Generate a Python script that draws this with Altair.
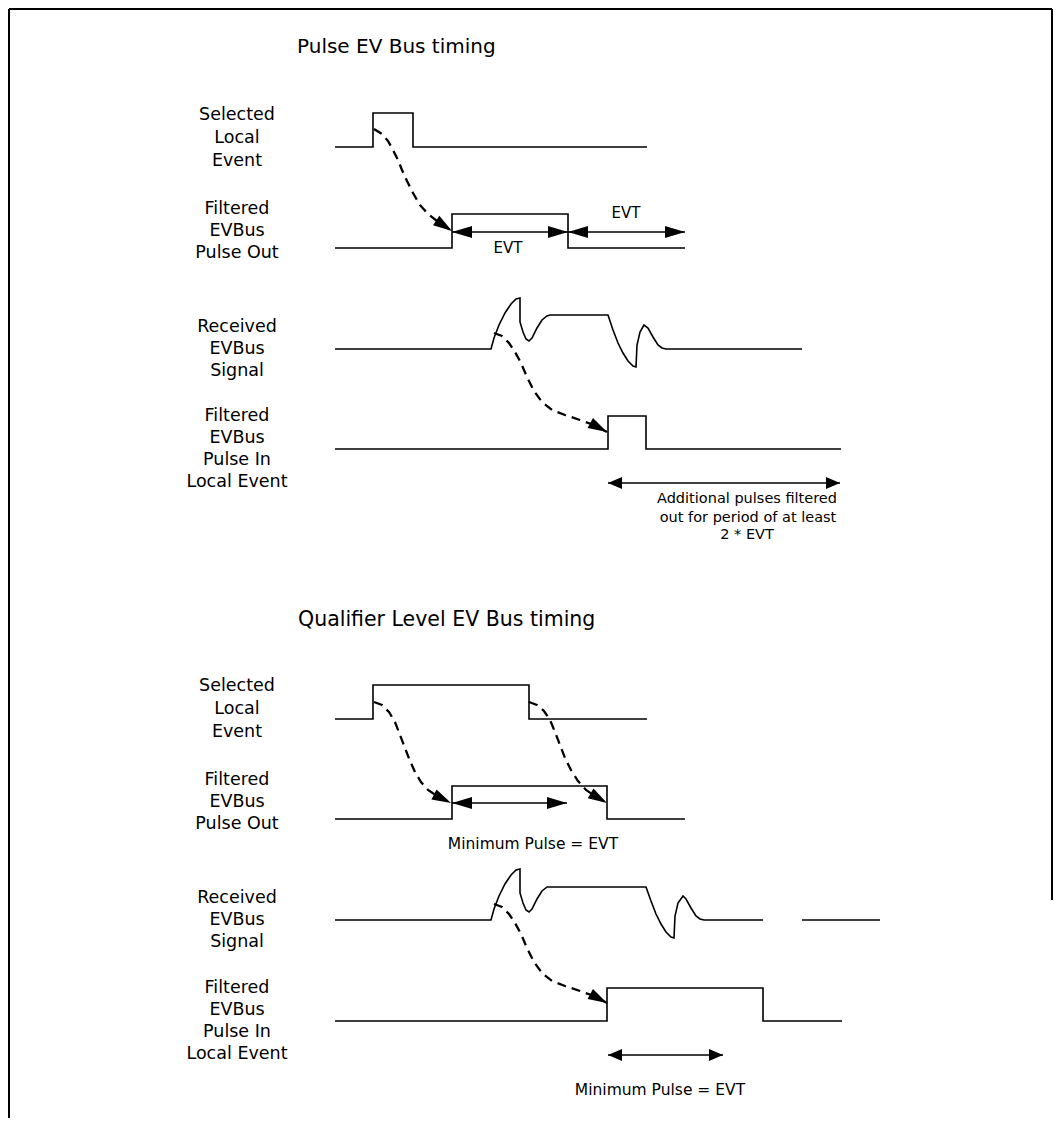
import math
import altair as alt
import pandas as pd

# ---------------- waveforms (time position x, level position y) ----------------
# Section 1: Pulse EV Bus timing
s1_sel_x = [335, 373, 373, 413, 413, 647]
s1_sel_y = [147, 147, 113, 113, 147, 147]
s1_out_x = [335, 452, 452, 568, 568, 685]
s1_out_y = [248, 248, 214, 214, 248, 248]
s1_rcv_x = [335, 491, 494, 499, 505, 511, 516, 520, 520, 523, 526, 529, 532, 537, 542, 547, 550,
            608, 613, 618, 623, 628, 633, 636, 637, 640, 644, 648, 653, 658, 662, 666, 802]
s1_rcv_y = [349, 349, 338, 325, 313, 304, 299, 298, 322, 332, 339, 341, 338, 328, 320, 316, 315,
            315, 330, 343, 353, 361, 366, 367, 345, 332, 325, 328, 337, 345, 348, 349, 349]
s1_in_x = [335, 608, 608, 646, 646, 841]
s1_in_y = [449, 449, 416, 416, 449, 449]

# Section 2: Qualifier Level EV Bus timing
s2_sel_x = [335, 373, 373, 529, 529, 647]
s2_sel_y = [719, 719, 685, 685, 719, 719]
s2_out_x = [335, 452, 452, 607, 607, 685]
s2_out_y = [819, 819, 786, 786, 819, 819]
s2_rcv_x = [335, 491, 494, 499, 505, 511, 516, 520, 520, 523, 526, 529, 532, 537, 542, 547, 550,
            646, 651, 656, 661, 666, 671, 674, 675, 678, 683, 686, 691, 696, 700, 704, 763]
s2_rcv_y = [920, 920, 909, 896, 884, 875, 870, 869, 893, 903, 910, 912, 909, 899, 891, 887, 887,
            887, 901, 914, 924, 932, 937, 938, 916, 903, 896, 899, 908, 916, 919, 920, 920]
s2_rcv2_x = [802, 880]
s2_rcv2_y = [920, 920]
s2_in_x = [335, 607, 607, 763, 763, 842]
s2_in_y = [1021, 1021, 988, 988, 1021, 1021]

# ---------------- dashed causality curves ----------------
d1_x = [374, 382, 388, 393, 398, 402, 407, 413, 420, 428, 437, 452]
d1_y = [129, 134, 141, 150, 160, 170, 181, 193, 205, 214, 221, 231]
d2_x = [494, 502, 509, 515, 521, 527, 534, 542, 552, 565, 580, 594, 607]
d2_y = [333, 336, 343, 352, 363, 377, 391, 402, 410, 415, 420, 425, 432]
d3_x = [374, 382, 389, 395, 400, 405, 410, 415, 421, 428, 437, 451]
d3_y = [702, 705, 712, 722, 735, 748, 761, 772, 782, 790, 796, 803]
d4_x = [529, 537, 544, 550, 555, 560, 565, 571, 578, 586, 595, 607]
d4_y = [702, 705, 711, 720, 732, 745, 758, 770, 781, 790, 796, 803]
d5_x = [494, 502, 509, 515, 521, 527, 534, 542, 552, 565, 580, 594, 607]
d5_y = [904, 907, 914, 923, 934, 948, 962, 973, 981, 986, 991, 996, 1003]

# ---------------- double-headed span arrows ----------------
span_x1 = [452, 568, 608, 452, 608]
span_x2 = [568, 685, 840, 567, 723]
span_y = [232, 232, 483, 803, 1055]
span_kind = ["big", "big", "small", "big", "small"]

# ---------------- texts ----------------
titles = ["Pulse EV Bus timing", "Qualifier Level EV Bus timing"]
title_x = [297, 298]
title_y = [47, 620]
title_size = [20, 20.5]

label_text = ["Selected", "Local", "Event",
              "Filtered", "EVBus", "Pulse Out",
              "Received", "EVBus", "Signal",
              "Filtered", "EVBus", "Pulse In", "Local Event",
              "Selected", "Local", "Event",
              "Filtered", "EVBus", "Pulse Out",
              "Received", "EVBus", "Signal",
              "Filtered", "EVBus", "Pulse In", "Local Event"]
label_y = [115, 138, 161,
           209, 231, 253,
           327, 349, 371,
           416, 438, 460, 482,
           686, 709, 732,
           780, 802, 824,
           898, 920, 942,
           988, 1010, 1032, 1054]

note_text = ["EVT", "EVT",
             "Additional pulses filtered", "out for period of at least", "2 * EVT",
             "Minimum Pulse = EVT", "Minimum Pulse = EVT"]
note_x = [508, 626, 747, 748, 747, 533, 660]
note_y = [248, 213, 499, 518, 535, 844, 1090]
note_size = [15, 15, 14.5, 14.5, 14.5, 15.5, 15.5]

# ---------------- build tables ----------------
def path_rows(name, xs, ys):
    return [dict(id=name, ord=i, x=a, y=b) for i, (a, b) in enumerate(zip(xs, ys))]

solid = []
for nm, xs, ys in [("s1_sel", s1_sel_x, s1_sel_y), ("s1_out", s1_out_x, s1_out_y),
                   ("s1_rcv", s1_rcv_x, s1_rcv_y), ("s1_in", s1_in_x, s1_in_y),
                   ("s2_sel", s2_sel_x, s2_sel_y), ("s2_out", s2_out_x, s2_out_y),
                   ("s2_rcv", s2_rcv_x, s2_rcv_y), ("s2_rcv2", s2_rcv2_x, s2_rcv2_y),
                   ("s2_in", s2_in_x, s2_in_y)]:
    solid += path_rows(nm, xs, ys)
for i, (a, b, y) in enumerate(zip(span_x1, span_x2, span_y)):
    solid += path_rows("span%d" % i, [a, b], [y, y])
solid_df = pd.DataFrame(solid)

dashed = []
dashed_sets = [("d1", d1_x, d1_y), ("d2", d2_x, d2_y), ("d3", d3_x, d3_y),
               ("d4", d4_x, d4_y), ("d5", d5_x, d5_y)]
for nm, xs, ys in dashed_sets:
    dashed += path_rows(nm, xs, ys)
dashed_df = pd.DataFrame(dashed)

BIG = "M0,0L-0.3,1L0.3,1Z"
SMALL = "M0,0L-0.42,1L0.42,1Z"

def heading(x0, y0, x1, y1):
    # clockwise angle from "up" on screen (y grows downward)
    return (math.degrees(math.atan2(x1 - x0, -(y1 - y0))) + 360) % 360

heads = []
for a, b, y, k in zip(span_x1, span_x2, span_y, span_kind):
    shp = BIG if k == "big" else SMALL
    sz = 1600 if k == "big" else 784
    heads.append(dict(x=a, y=y, angle=270, shape=shp, size=sz))
    heads.append(dict(x=b, y=y, angle=90, shape=shp, size=sz))
for nm, xs, ys in dashed_sets:
    heads.append(dict(x=xs[-1], y=ys[-1], angle=heading(xs[-2], ys[-2], xs[-1], ys[-1]),
                      shape=BIG, size=1444))
heads_df = pd.DataFrame(heads)

label_df = pd.DataFrame(dict(x=[237] * len(label_text), y=label_y, text=label_text))
title_df = pd.DataFrame(dict(x=title_x, y=title_y, text=titles, size=title_size))
note_df = pd.DataFrame(dict(x=note_x, y=note_y, text=note_text, size=note_size))

frame_df = pd.DataFrame(dict(id=["t", "t", "l", "l", "r", "r"], ord=[0, 1, 0, 1, 0, 1],
                             x=[9, 1052, 9, 9, 1052, 1052], y=[9, 9, 9, 1118, 9, 900]))

# ---------------- scales ----------------
X = alt.X("x:Q", scale=alt.Scale(domain=[8, 1053], nice=False, zero=False), axis=None)
Y = alt.Y("y:Q", scale=alt.Scale(domain=[8, 1118], nice=False, zero=False, reverse=True), axis=None)
FONT = "DejaVu Sans"

frame = alt.Chart(frame_df).mark_line(color="black", strokeWidth=2).encode(
    x=X, y=Y, detail="id:N", order="ord:Q")
waves = alt.Chart(solid_df).mark_line(color="black", strokeWidth=1.6).encode(
    x=X, y=Y, detail="id:N", order="ord:Q")
dash = alt.Chart(dashed_df).mark_line(color="black", strokeWidth=2.3, strokeDash=[9, 6]).encode(
    x=X, y=Y, detail="id:N", order="ord:Q")
arrowheads = alt.Chart(heads_df).mark_point(filled=True, color="black", opacity=1, strokeWidth=0).encode(
    x=X, y=Y,
    shape=alt.Shape("shape:N", scale=None),
    size=alt.Size("size:Q", scale=None),
    angle=alt.Angle("angle:Q", scale=None))
labels = alt.Chart(label_df).mark_text(font=FONT, fontSize=17.5, color="black",
                                       align="center", baseline="middle").encode(
    x=X, y=Y, text="text:N")
title_marks = alt.Chart(title_df).mark_text(font=FONT, color="black",
                                            align="left", baseline="middle").encode(
    x=X, y=Y, text="text:N", size=alt.Size("size:Q", scale=None))
notes = alt.Chart(note_df).mark_text(font=FONT, color="black",
                                     align="center", baseline="middle").encode(
    x=X, y=Y, text="text:N", size=alt.Size("size:Q", scale=None))

chart = alt.layer(frame, waves, dash, arrowheads, labels, title_marks, notes).properties(
    width=1045, height=1110, padding=0, background="white",
    autosize=alt.AutoSizeParams(type="none")
).configure_view(strokeWidth=0)

chart.save("out.html", embed_options={"renderer": "svg", "actions": False})
